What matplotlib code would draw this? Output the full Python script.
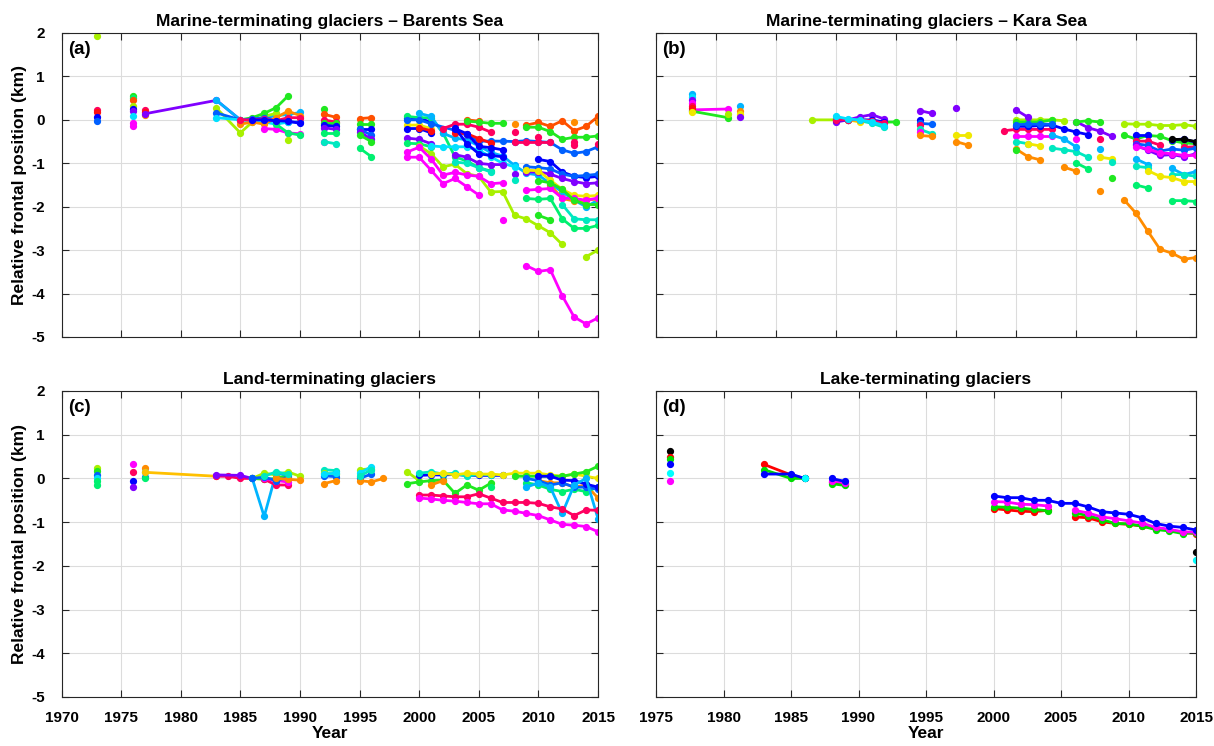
import matplotlib
matplotlib.use("Agg")
import matplotlib.pyplot as plt

plt.rcParams['font.family'] = ['Liberation Sans', 'DejaVu Sans']
plt.rcParams['font.weight'] = 'bold'

# colour keys (MATLAB-like hsv colormap)
pal = {'R': '#ff1010', 'OR': '#ff5000', 'O': '#ff8c00', 'GO': '#ffc000', 'Y': '#f0e800',
       'GY': '#a8f000', 'G': '#20e820', 'SG': '#00f070', 'AQ': '#00e8c0', 'C': '#00e0ff',
       'SB': '#00b4ff', 'DB': '#0060ff', 'B': '#0000ff', 'V': '#8000ff', 'M': '#ff00ff',
       'DP': '#ff0060', 'K': '#000000'}
dpal = {'R': '#ff0000', 'G': '#00dd00', 'B': '#0000ff', 'C': '#00ffff', 'M': '#ff00ff', 'K': '#000000'}

titles = ['Marine-terminating glaciers \u2013 Barents Sea',
          'Marine-terminating glaciers \u2013 Kara Sea',
          'Land-terminating glaciers',
          'Lake-terminating glaciers']
labels = ['(a)', '(b)', '(c)', '(d)']

Y00_15 = list(range(2000, 2016))

# ---------------- (a) Barents Sea ----------------
a_years = [
    [1973], [1973], [1973], [1973], [1973],
    [1976], [1976], [1976], [1976], [1976], [1976], [1976], [1976], [1976],
    [1977], [1977], [1977],
    [1977, 1983, 1985, 1986, 1987, 1988, 1989],
    [1983, 1985, 1986, 1987, 1988, 1989, 1990],
    [1983, 1985, 1986, 1987, 1988],
    [1985, 1986, 1987, 1988, 1989],
    [1983, 1985, 1986, 1987, 1988, 1989, 1990],
    [1983, 1985, 1986, 1987, 1988, 1989],
    [1985, 1986, 1987, 1988, 1989, 1990],
    [1985, 1986, 1987, 1988, 1989, 1990],
    [1987, 1988, 1989, 1990],
    [1988, 1989, 1990],
    [1989],
    [1986, 1987, 1988, 1989, 1990],
    [1992], [1992, 1993], [1992, 1993], [1992, 1993], [1992, 1993], [1992, 1993],
    [1992, 1993], [1992], [1992, 1993],
    [1995, 1996], [1995, 1996], [1995, 1996], [1995, 1996], [1995, 1996], [1995, 1996], [1995, 1996],
    [1999, 2000, 2001], [1999, 2000, 2001], [1999, 2000, 2001], [1999, 2000, 2001], [1999, 2000, 2001],
    [1999, 2000, 2001, 2002, 2003, 2004, 2005, 2006],
    Y00_15,
    [2001, 2002, 2003, 2004, 2005, 2006, 2007, 2008],
    [1999, 2000, 2001, 2003, 2004, 2005, 2006, 2007, 2008, 2009, 2010, 2011, 2012, 2013, 2014, 2015],
    [2002, 2003, 2004, 2005, 2006],
    [2008, 2009, 2010, 2011],
    [2003, 2004, 2005, 2006],
    [2000, 2001],
    [2004, 2005],
    [2009, 2010, 2011, 2012, 2013, 2014, 2015],
    [2004, 2005, 2006, 2007],
    [2009, 2010, 2011, 2012, 2013, 2014, 2015],
    [2003, 2004, 2005, 2006, 2007],
    [2003, 2004, 2005, 2006, 2007],
    [2010, 2011, 2012, 2013, 2014, 2015],
    [2009, 2010, 2011, 2012, 2013, 2014, 2015],
    [2009, 2010, 2011, 2012, 2013, 2014, 2015],
    [2009, 2010, 2011, 2012, 2013, 2014, 2015],
    [2011, 2012, 2013, 2014, 2015],
    [2009, 2010, 2011, 2012, 2013, 2014, 2015],
    [2009, 2010, 2011, 2012, 2013, 2014, 2015],
    [2012, 2013, 2014, 2015],
    [2010, 2011, 2012, 2013, 2014, 2015],
    [2000, 2001, 2002, 2003, 2004, 2005, 2006, 2007, 2008, 2009, 2010, 2011, 2012],
    [2014, 2015],
    [1999, 2000, 2001, 2002, 2003, 2004, 2005],
    [1999, 2000, 2001, 2002, 2003, 2004, 2005, 2006, 2007],
    [2009, 2010, 2011, 2012, 2013, 2014, 2015],
    [2003, 2004, 2005, 2006, 2007],
    [2003, 2004, 2005, 2006],
    [2010, 2011],
    [2008], [2008], [2007], [2008], [2008], [2010], [2013], [2013], [2015], [2015], [2013],
]
a_vals = [
    [1.92], [0.22], [0.17], [0.06], [-0.02],
    [0.55], [0.50], [0.45], [0.32], [0.25], [0.20], [0.08], [-0.07], [-0.13],
    [0.23], [0.18], [0.12],
    [0.14, 0.45, 0.0, 0.02, 0.0, -0.03, 0.0],
    [0.45, 0.0, 0.0, 0.05, 0.10, 0.12, 0.17],
    [0.27, -0.30, -0.05, 0.08, 0.15],
    [0.0, 0.05, 0.15, 0.28, 0.55],
    [0.16, 0.0, 0.02, 0.05, 0.0, -0.05, -0.05],
    [0.05, 0.0, -0.02, -0.05, -0.10, -0.05],
    [-0.10, -0.05, -0.10, 0.05, 0.20, 0.10],
    [0.0, 0.0, 0.02, -0.02, 0.05, 0.05],
    [-0.20, -0.22, -0.30, -0.32],
    [-0.10, -0.30, -0.35],
    [-0.47],
    [0.0, 0.0, -0.02, -0.03, -0.08],
    [0.25], [0.13, 0.06], [0.0, -0.05], [-0.08, -0.08], [-0.12, -0.15], [-0.18, -0.22],
    [-0.30, -0.30], [-0.50], [-0.50, -0.55],
    [0.03, 0.05], [-0.10, -0.10], [-0.20, -0.20], [-0.22, -0.35], [-0.27, -0.45], [-0.35, -0.50], [-0.65, -0.85],
    [0.04, 0.03, -0.05], [-0.12, -0.12, -0.20], [-0.20, -0.20, -0.30], [-0.42, -0.45, -0.55], [-0.54, -0.55, -0.62],
    [0.08, 0.05, 0.05, -0.30, -0.85, -0.95, -1.10, -1.18],
    [0.15, 0.08, -0.31, -0.42, -0.46, -0.60, -0.75, -0.83, -1.05, -1.23, -1.27, -1.47, -1.66, -1.85, -2.0, -1.85],
    [-0.60, -0.62, -0.62, -0.62, -0.70, -0.85, -1.0, -1.08],
    [0.0, 0.0, -0.09, -0.24, -0.36, -0.49, -0.49, -0.49, -0.50, -0.48, -0.50, -0.52, -0.69, -0.77, -0.73, -0.62],
    [-0.20, -0.10, -0.10, -0.17, -0.28],
    [-0.52, -0.52, -0.52, -0.52],
    [-0.30, -0.32, -0.43, -0.53],
    [-0.18, -0.25],
    [0.0, -0.03],
    [-0.12, -0.06, -0.15, -0.02, -0.25, -0.15, 0.08],
    [-0.03, -0.05, -0.08, -0.08],
    [-0.17, -0.17, -0.27, -0.45, -0.40, -0.40, -0.37],
    [-0.18, -0.55, -0.78, -0.82, -0.85],
    [-0.20, -0.32, -0.61, -0.64, -0.69],
    [-0.91, -0.96, -1.20, -1.30, -1.33, -1.30],
    [-1.08, -1.10, -1.13, -1.25, -1.30, -1.28, -1.25],
    [-1.20, -1.20, -1.25, -1.35, -1.42, -1.47, -1.45],
    [-1.16, -1.17, -1.39, -1.60, -1.74, -1.76, -1.74],
    [-1.50, -1.81, -1.87, -1.85, -1.82],
    [-1.62, -1.60, -1.58, -1.80, -1.81, -1.85, -1.80],
    [-1.81, -1.83, -1.81, -2.28, -2.50, -2.50, -2.43],
    [-1.95, -2.28, -2.30, -2.30],
    [-1.40, -1.45, -1.60, -1.85, -1.95, -1.95],
    [-0.60, -0.78, -1.08, -1.02, -1.24, -1.30, -1.66, -1.65, -2.20, -2.28, -2.44, -2.60, -2.87],
    [-3.15, -3.0],
    [-0.86, -0.86, -1.16, -1.47, -1.35, -1.54, -1.73],
    [-0.74, -0.63, -0.90, -1.27, -1.21, -1.27, -1.30, -1.47, -1.45],
    [-3.36, -3.49, -3.45, -4.05, -4.54, -4.70, -4.56],
    [-0.80, -0.86, -1.0, -1.03, -1.03],
    [-0.97, -1.0, -1.10, -1.20],
    [-2.20, -2.30],
    [-1.25], [-1.39], [-2.30], [-0.29], [-0.10], [-0.40], [-0.50], [-0.58], [-0.05], [-0.55], [-0.04],
]
a_cols = [
    'GY', 'DP', 'R', 'B', 'DB',
    'G', 'SG', 'OR', 'GY', 'B', 'V', 'C', 'M', 'M',
    'DP', 'R', 'O',
    'V', 'SB', 'GY', 'G', 'DB', 'C', 'O', 'DP', 'M', 'SG', 'GY', 'B',
    'G', 'OR', 'DP', 'G', 'B', 'V', 'SG', 'M', 'AQ',
    'OR', 'G', 'B', 'DB', 'V', 'G', 'SG',
    'B', 'Y', 'B', 'V', 'SG',
    'SG', 'SB', 'C', 'DB', 'DP', 'DP', 'R', 'R', 'OR', 'OR', 'G', 'G',
    'B', 'B', 'B', 'DB', 'V', 'Y', 'O', 'M', 'SG', 'AQ', 'G', 'GY', 'GY',
    'M', 'M', 'M', 'V', 'AQ', 'G',
    'V', 'AQ', 'M', 'DP', 'O', 'DP', 'DP', 'DP', 'O', 'DP', 'O',
]

# ---------------- (b) Kara Sea ----------------
b_years = [
    [1973, 1976], [1973, 1976],
    [1973], [1973], [1973], [1973], [1973], [1973], [1973],
    [1976], [1977], [1977], [1977], [1977],
    [1983, 1985, 1986, 1987, 1988], [1987, 1988, 1989, 1990],
    [1985, 1986, 1987, 1988, 1989], [1985, 1986, 1987, 1988, 1989],
    [1985, 1986, 1987, 1988, 1989], [1986, 1987], [1985, 1986, 1987, 1988, 1989],
    [1985, 1986, 1987, 1988, 1989],
    [1992, 1993], [1992], [1992, 1993], [1992], [1992, 1993], [1992], [1992, 1993],
    [1995], [1995, 1996], [1995, 1996],
    [1999, 2000, 2001, 2002, 2003], [2000, 2001, 2002, 2003, 2004], [2000, 2001, 2002, 2003],
    [2000, 2001, 2002, 2003, 2004, 2005, 2006], [2000, 2001, 2002, 2003],
    [2005, 2006, 2007, 2008], [2000, 2001], [2005, 2006, 2007],
    [2000, 2001, 2002, 2003], [2000, 2001], [2003, 2004, 2005, 2006], [2003, 2004, 2005],
    [2001, 2002], [2007, 2008], [2000, 2001, 2002], [2000], [2004, 2005], [2005, 2006],
    [2005], [2007], [2007], [2007], [2008], [2008],
    [2009, 2010, 2011, 2012, 2013, 2014, 2015], [2009, 2010, 2011, 2012, 2013, 2014, 2015],
    [2010, 2011], [2013, 2014, 2015], [2010, 2011, 2012], [2014, 2015],
    [2010, 2011, 2012, 2013, 2014, 2015], [2010, 2011, 2012, 2013, 2014, 2015],
    [2010, 2011, 2012, 2013, 2014, 2015],
    [2010, 2011], [2013, 2014, 2015], [2010, 2011], [2013, 2014, 2015],
    [2011, 2012, 2013, 2014, 2015], [2010, 2011], [2013, 2014, 2015],
    [2009, 2010, 2011, 2012, 2013, 2014, 2015], [2013, 2014, 2015],
]
b_vals = [
    [0.23, 0.25], [0.20, 0.05],
    [0.60], [0.52], [0.45], [0.39], [0.33], [0.28], [0.18],
    [0.14], [0.33], [0.20], [0.14], [0.07],
    [0.0, 0.0, 0.0, -0.02, -0.03], [-0.02, -0.05, -0.05, -0.05],
    [-0.05, 0.0, 0.07, 0.12, 0.02], [0.0, 0.0, 0.0, 0.0, -0.05],
    [0.05, 0.0, -0.02, -0.08, -0.17], [0.0, -0.05], [0.0, 0.0, 0.0, -0.02, -0.08],
    [0.08, 0.02, 0.0, -0.05, -0.13],
    [0.21, 0.15], [0.0], [-0.08, -0.10], [-0.12], [-0.22, -0.32], [-0.28], [-0.36, -0.38],
    [0.27], [-0.34, -0.34], [-0.50, -0.58],
    [-0.25, -0.22, -0.22, -0.22, -0.22], [0.0, 0.0, 0.0, 0.0, -0.02], [-0.05, -0.05, -0.05, 0.0],
    [-0.15, -0.15, -0.13, -0.12, -0.21, -0.28, -0.34], [-0.11, -0.10, -0.10, -0.10],
    [-0.04, -0.18, -0.26, -0.38], [0.23, 0.06], [-0.05, -0.02, -0.05],
    [-0.38, -0.38, -0.38, -0.38], [-0.50, -0.55], [-0.65, -0.69, -0.73, -0.86], [-0.35, -0.44, -0.62],
    [-0.55, -0.60], [-0.86, -0.90], [-0.67, -0.85, -0.92], [-0.69], [-1.09, -1.18], [-0.99, -1.13],
    [-0.44], [-0.44], [-0.68], [-1.63], [-1.34], [-0.98],
    [-0.09, -0.10, -0.10, -0.13, -0.13, -0.11, -0.15], [-0.35, -0.44, -0.36, -0.38, -0.48, -0.53, -0.55],
    [-0.35, -0.35], [-0.46, -0.44, -0.52], [-0.49, -0.49, -0.58], [-0.63, -0.62],
    [-0.55, -0.59, -0.72, -0.67, -0.70, -0.65], [-0.59, -0.70, -0.82, -0.80, -0.85, -0.78],
    [-0.62, -0.67, -0.76, -0.78, -0.82, -0.82],
    [-0.90, -1.03], [-1.12, -1.26, -1.19], [-1.07, -1.10], [-1.26, -1.26, -1.30],
    [-1.17, -1.30, -1.33, -1.42, -1.42], [-1.50, -1.57], [-1.86, -1.86, -1.88],
    [-1.84, -2.15, -2.57, -2.98, -3.07, -3.21, -3.17], [-0.45, -0.45, -0.50],
]
b_cols = [
    'M', 'G',
    'SB', 'C', 'V', 'M', 'DP', 'R', 'Y',
    'GY', 'SB', 'O', 'Y', 'V',
    'GY', 'G', 'V', 'B', 'AQ', 'Y', 'DP', 'C',
    'V', 'B', 'DB', 'DP', 'AQ', 'M', 'O',
    'V', 'Y', 'O',
    'DP', 'GY', 'G', 'B', 'DB', 'V', 'V', 'G',
    'M', 'AQ', 'AQ', 'SB', 'Y', 'Y', 'O', 'G', 'O', 'SG',
    'M', 'DP', 'SB', 'O', 'G', 'AQ',
    'GY', 'G', 'B', 'B', 'DP', 'DP', 'DB', 'V', 'M',
    'SB', 'SB', 'AQ', 'AQ', 'Y', 'SG', 'SG', 'O', 'K',
]

# ---------------- (c) Land-terminating ----------------
c_years = [
    [1973], [1973], [1973], [1973], [1973], [1973],
    [1976], [1976], [1976], [1976],
    [1977], [1977], [1977], [1977],
    [1977, 1983],
    [1983, 1984, 1985, 1986], [1983, 1985, 1986],
    [1986, 1987, 1988, 1989, 1990], [1986, 1987, 1988, 1989], [1986, 1987, 1988, 1989],
    [1987, 1988, 1989], [1987, 1988, 1989], [1986, 1987, 1988, 1989], [1988, 1989, 1990],
    [1987, 1988, 1989],
    [1992, 1993], [1992, 1993], [1992, 1993], [1992, 1993], [1992, 1993],
    [1995, 1996], [1995, 1996], [1995, 1996], [1995, 1996, 1997], [1995, 1996],
    [1999, 2000],
    [1999, 2000, 2001, 2002, 2003, 2004, 2005, 2006],
    [2000, 2001, 2002, 2003, 2004, 2005, 2006, 2007],
    [2000, 2001, 2002, 2003, 2004, 2005, 2006],
    list(range(2001, 2016)),
    [2008, 2009, 2010, 2011, 2012, 2013, 2014, 2015],
    [2001, 2002], [2010, 2011, 2012, 2013, 2014, 2015],
    [2009, 2010, 2011, 2012, 2013, 2014, 2015],
    [2009, 2010, 2011, 2012, 2013, 2014, 2015],
    [2006],
    [2010, 2011, 2012, 2013, 2014, 2015],
    [2009, 2010, 2011, 2012, 2013, 2014, 2015],
    Y00_15,
    Y00_15,
]
c_vals = [
    [0.23], [0.17], [0.08], [0.0], [-0.06], [-0.14],
    [0.32], [0.14], [-0.06], [-0.20],
    [0.23], [0.15], [0.04], [0.0],
    [0.14, 0.05],
    [0.05, 0.05, 0.0, 0.0], [0.08, 0.07, 0.0],
    [0.0, 0.12, 0.08, 0.15, 0.05], [0.0, -0.02, 0.0, 0.08], [0.0, -0.87, 0.12, 0.08],
    [-0.02, -0.15, -0.15], [0.0, -0.05, -0.08], [0.0, 0.03, -0.05, 0.03], [0.0, -0.02, -0.04],
    [0.05, 0.15, 0.10],
    [0.20, 0.18], [0.12, 0.10], [0.06, 0.04], [-0.12, -0.05], [0.10, 0.12],
    [0.20, 0.22], [0.12, 0.27], [0.0, 0.10], [-0.05, -0.08, 0.0], [0.05, 0.20],
    [0.15, -0.05],
    [-0.12, -0.08, -0.05, -0.04, -0.34, -0.15, -0.27, -0.11],
    [0.07, 0.08, 0.08, 0.09, 0.07, 0.07, 0.07, 0.07],
    [0.12, 0.15, 0.10, 0.12, 0.05, 0.10, 0.08],
    [0.10, 0.12, 0.08, 0.12, 0.10, 0.10, 0.08, 0.12, 0.12, 0.12, 0.08, 0.05, 0.10, 0.05, 0.0],
    [0.05, 0.05, 0.05, 0.05, 0.05, 0.10, 0.15, 0.28],
    [-0.15, -0.05], [-0.05, -0.10, -0.10, -0.20, -0.15, -0.45],
    [-0.10, -0.15, -0.25, -0.30, -0.25, -0.30, -0.20],
    [0.0, -0.05, -0.15, -0.10, -0.20, -0.20, -0.25],
    [-0.20],
    [0.05, 0.05, -0.04, -0.05, -0.13, -0.20],
    [-0.20, -0.10, -0.20, -0.80, -0.15, 0.0, -0.92],
    [-0.38, -0.38, -0.40, -0.42, -0.42, -0.35, -0.45, -0.55, -0.55, -0.55, -0.57, -0.65, -0.70, -0.85, -0.72, -0.73],
    [-0.45, -0.47, -0.50, -0.52, -0.55, -0.58, -0.58, -0.72, -0.75, -0.80, -0.85, -0.95, -1.05, -1.07, -1.10, -1.22],
]
c_cols = [
    'GY', 'G', 'DB', 'C', 'SG', 'SG',
    'M', 'DP', 'B', 'V',
    'O', 'C', 'DB', 'SG',
    'GO',
    'DP', 'V',
    'GY', 'G', 'SB', 'DP', 'M', 'DB', 'O', 'AQ',
    'AQ', 'GY', 'DB', 'O', 'C',
    'GY', 'C', 'DB', 'O', 'AQ',
    'GY', 'G', 'B', 'AQ', 'Y', 'G', 'O', 'O', 'SG', 'DB', 'SG', 'B', 'SB', 'DP', 'M',
]

# ---------------- (d) Lake-terminating ----------------
Y06_15 = list(range(2006, 2016))
d_years = [
    [1976], [1976], [1976], [1976], [1976], [1976],
    [1983, 1985, 1986], [1983, 1985, 1986], [1983, 1985, 1986], [1986],
    [1988, 1989], [1988, 1989], [1988, 1989], [1988, 1989],
    [2000, 2001, 2002, 2003, 2004], Y06_15,
    [2000, 2001, 2002, 2003, 2004], Y06_15,
    [2000, 2001, 2002, 2003, 2004], Y06_15,
    Y00_15,
    [2015], [2015],
]
d_vals = [
    [0.63], [0.50], [0.45], [0.32], [0.12], [-0.06],
    [0.32, 0.08, 0.0], [0.20, 0.0, 0.0], [0.10, 0.10, 0.0], [0.0],
    [-0.08, -0.13], [-0.12, -0.16], [-0.05, -0.10], [0.0, -0.07],
    [-0.69, -0.72, -0.75, -0.76, -0.73], [-0.88, -0.90, -0.99, -1.03, -1.05, -1.09, -1.15, -1.18, -1.24, -1.26],
    [-0.65, -0.66, -0.68, -0.71, -0.74], [-0.79, -0.85, -0.94, -1.03, -1.04, -1.09, -1.17, -1.20, -1.26, -1.24],
    [-0.53, -0.54, -0.59, -0.60, -0.63], [-0.73, -0.79, -0.88, -0.92, -0.97, -1.02, -1.12, -1.16, -1.22, -1.23],
    [-0.40, -0.44, -0.44, -0.50, -0.50, -0.57, -0.57, -0.65, -0.76, -0.79, -0.82, -0.90, -1.03, -1.09, -1.12, -1.18],
    [-1.68], [-1.87],
]
d_cols = [
    'K', 'R', 'G', 'B', 'C', 'M',
    'R', 'G', 'B', 'C',
    'R', 'G', 'M', 'B',
    'R', 'R', 'G', 'G', 'M', 'M', 'B', 'K', 'C',
]

fig = plt.figure(figsize=(12.14, 7.46), dpi=100)
W, H = 1214, 746
boxes = [(61.5, 33, 598, 337), (656, 33, 1196, 337),
         (61.5, 391, 598, 697), (656, 391, 1196, 697)]
axes = []
for (x0, y0, x1, y1) in boxes:
    axes.append(fig.add_axes([x0 / W, 1 - y1 / H, (x1 - x0) / W, (y1 - y0) / H]))

panels = [(a_years, a_vals, a_cols, pal), (b_years, b_vals, b_cols, pal),
          (c_years, c_vals, c_cols, pal), (d_years, d_vals, d_cols, dpal)]

for i, ax in enumerate(axes):
    yrs, vals, cols, p = panels[i]
    for xs, ys, c in zip(yrs, vals, cols):
        ax.plot(xs, ys, '-o', color=p[c], lw=2.0, ms=4.2, mec=p[c], mfc=p[c])
    if i == 3:
        ax.set_xlim(1975, 2015)
        ax.set_xticks(range(1975, 2016, 5))
    else:
        ax.set_xlim(1970, 2015)
        ax.set_xticks(range(1970, 2016, 5))
    ax.set_ylim(-5, 2)
    ax.set_yticks(range(-5, 3))
    ax.grid(True, color='#dcdcdc', lw=0.8)
    ax.set_axisbelow(True)
    ax.tick_params(direction='in', top=True, right=True, labelsize=11, length=5,
                   color='#262626', width=0.8)
    ax.tick_params(axis='x', pad=10)
    ax.tick_params(axis='y', pad=12)
    for s in ax.spines.values():
        s.set_color('#262626')
        s.set_linewidth(0.8)
    ax.set_title(titles[i], fontsize=12.5, fontweight='bold', pad=5)
    ax.text(0.012, 0.975, labels[i], transform=ax.transAxes, fontsize=13.5,
            fontweight='bold', va='top', ha='left')
    if i < 2:
        ax.tick_params(labelbottom=False)
    else:
        ax.set_xlabel('Year', fontsize=12.5, fontweight='bold', labelpad=1)
    if i % 2 == 1:
        ax.tick_params(labelleft=False)
    else:
        ax.set_ylabel('Relative frontal position (km)', fontsize=12.5, fontweight='bold', labelpad=3)
        ax.set_yticklabels([str(v) for v in range(-5, 3)])

fig.savefig('out.png', dpi=100)
